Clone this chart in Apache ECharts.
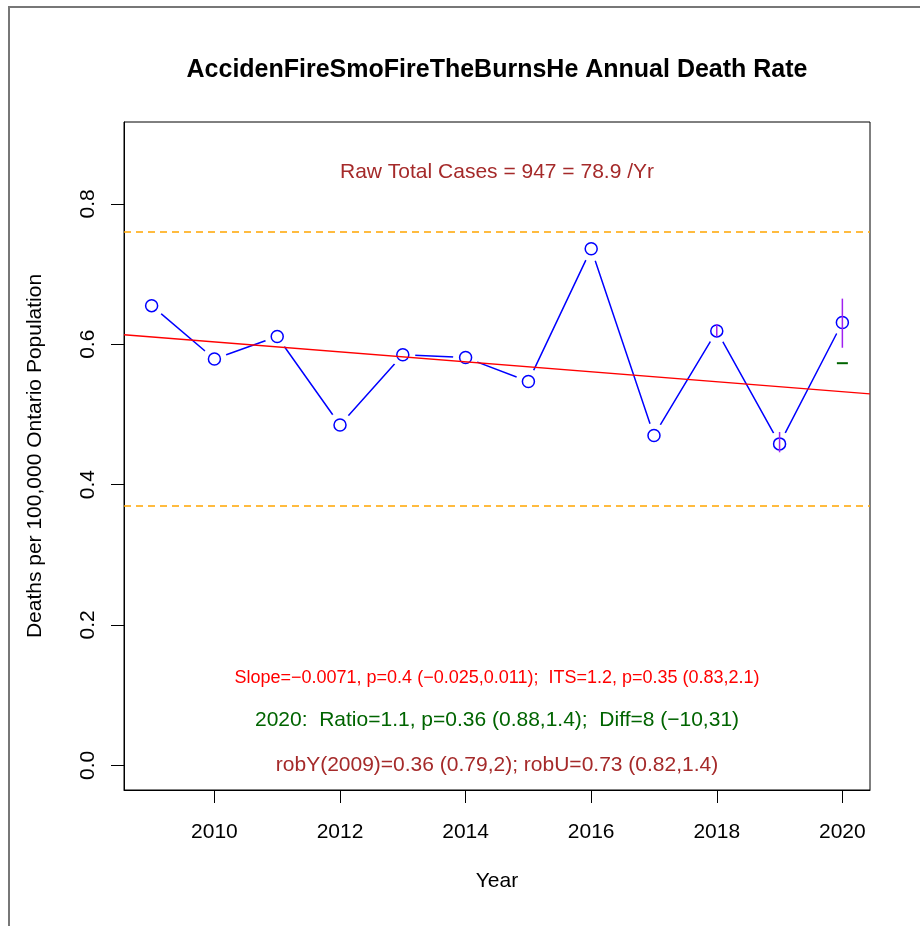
<!DOCTYPE html>
<html>
<head>
<meta charset="utf-8">
<title>Annual Death Rate</title>
<script src="https://cdn.jsdelivr.net/npm/echarts@6/dist/echarts.min.js"></script>
<style>
  html, body { margin: 0; padding: 0; background: #fff; }
  #chart { width: 920px; height: 926px; }
</style>
</head>
<body>
<div id="chart"></div>
<script>
// Annual death rate per 100,000 population, 2009-2020
const years = [2009, 2010, 2011, 2012, 2013, 2014, 2015, 2016, 2017, 2018, 2019, 2020];
const rates = [0.655, 0.579, 0.611, 0.485, 0.585, 0.581, 0.547, 0.736, 0.470, 0.619, 0.458, 0.631];

// Linear trend: value at the first year and yearly slope
const trendStartYear = 2009;
const trendStart = 0.6105;
const trendSlope = -0.0071;

// Control limits (dashed)
const limitLines = [0.763, 0.369];

// Interval bars for the latest years
const barYears = [2018, 2019, 2020];
const barLow = [0.611, 0.446, 0.595];
const barHigh = [0.629, 0.475, 0.665];

// Expected value for 2020
const expectedYear = [2020];
const expectedValue = [0.573];

// Tick labels
const xTicks = [2010, 2012, 2014, 2016, 2018, 2020];
const yTicks = [0, 0.2, 0.4, 0.6, 0.8];

const titleText = 'AccidenFireSmoFireTheBurnsHe Annual Death Rate';
const casesText = 'Raw Total Cases = 947 = 78.9 /Yr';
const slopeText = 'Slope=\u22120.0071, p=0.4 (\u22120.025,0.011);  ITS=1.2, p=0.35 (0.83,2.1)';
const ratioText = '2020:  Ratio=1.1, p=0.36 (0.88,1.4);  Diff=8 (\u221210,31)';
const robText = 'robY(2009)=0.36 (0.79,2); robU=0.73 (0.82,1.4)';

const FONT = '"Liberation Sans", Arial, Helvetica, sans-serif';
const xMin = 2008.56, xMax = 2020.44;
const yMin = -0.0352, yMax = 0.9167;

const pts = years.map((y, i) => [y, rates[i]]);
const trendPts = [xMin, xMax].map(x => [x, trendStart + trendSlope * (x - trendStartYear)]);
const bars = barYears.map((y, i) => [y, barLow[i], barHigh[i]]);
const expected = expectedYear.map((y, i) => [y, expectedValue[i]]);

const chart = echarts.init(document.getElementById('chart'), null, { renderer: 'canvas' });

function centeredText(text, x, y, size, color, weight) {
  return {
    type: 'text', x: x, y: y, silent: true,
    style: {
      text: text, fill: color, font: (weight || 'normal') + ' ' + size + 'px ' + FONT,
      align: 'center', verticalAlign: 'middle'
    }
  };
}

chart.setOption({
  animation: false,
  backgroundColor: '#fff',
  grid: {
    left: 124, top: 122, right: 50, bottom: 136,
    show: true, borderColor: '#000', borderWidth: 1, backgroundColor: 'transparent'
  },
  xAxis: {
    type: 'value', min: xMin, max: xMax,
    name: 'Year', nameLocation: 'middle', nameGap: 81,
    nameTextStyle: { fontFamily: FONT, fontSize: 21, color: '#000' },
    axisLine: { show: true, onZero: false, lineStyle: { color: '#000', width: 1 } },
    axisTick: { show: true, length: 13, customValues: xTicks, lineStyle: { color: '#000' } },
    axisLabel: {
      customValues: xTicks, margin: 32, fontFamily: FONT, fontSize: 21, color: '#000',
      formatter: v => String(Math.round(v))
    },
    splitLine: { show: false }
  },
  yAxis: {
    type: 'value', min: yMin, max: yMax,
    name: 'Deaths per 100,000 Ontario Population', nameLocation: 'middle', nameGap: 78,
    nameRotate: 90,
    nameTextStyle: { fontFamily: FONT, fontSize: 21, color: '#000' },
    axisLine: { show: true, onZero: false, lineStyle: { color: '#000', width: 1 } },
    axisTick: { show: true, length: 13, customValues: yTicks, lineStyle: { color: '#000' } },
    axisLabel: {
      customValues: yTicks, rotate: 90, margin: 25, fontFamily: FONT, fontSize: 21, color: '#000',
      formatter: v => v.toFixed(1)
    },
    splitLine: { show: false }
  },
  series: [
    {
      // connecting line
      type: 'line', data: pts, symbol: 'none', silent: true, z: 2,
      lineStyle: { color: '#0000FF', width: 1.5 }
    },
    {
      // white gaps around points
      type: 'scatter', data: pts, symbol: 'circle', symbolSize: 25, silent: true, z: 3,
      itemStyle: { color: '#fff', borderWidth: 0, opacity: 1 }
    },
    {
      // open circles
      type: 'scatter', data: pts, symbol: 'circle', symbolSize: 12, silent: true, z: 4,
      itemStyle: { color: 'rgba(255,255,255,0)', borderColor: '#0000FF', borderWidth: 1.5, opacity: 1 }
    },
    {
      // fitted trend and control limits
      type: 'line', data: trendPts, symbol: 'none', silent: true, z: 5,
      lineStyle: { color: '#FF0000', width: 1.5 },
      markLine: {
        silent: true, symbol: 'none', label: { show: false },
        lineStyle: { color: '#FFA500', type: [7, 5], width: 1.5 },
        data: limitLines.map(v => ({ yAxis: v }))
      }
    },
    {
      // interval bars
      type: 'custom', data: bars, silent: true, z: 6,
      renderItem: function (params, api) {
        const x = api.value(0);
        const lo = api.coord([x, api.value(1)]);
        const hi = api.coord([x, api.value(2)]);
        return {
          type: 'line',
          shape: { x1: lo[0], y1: lo[1], x2: hi[0], y2: hi[1] },
          style: { stroke: '#A020F0', lineWidth: 1.5 }
        };
      }
    },
    {
      // expected value mark
      type: 'scatter', data: expected, symbol: 'rect', symbolSize: [11, 2], silent: true, z: 6,
      itemStyle: { color: '#006400', opacity: 1 }
    }
  ],
  graphic: [
    // outer frame
    { type: 'line', silent: true, shape: { x1: 8, y1: 7, x2: 920, y2: 7 }, style: { stroke: '#777', lineWidth: 2 } },
    { type: 'line', silent: true, shape: { x1: 9, y1: 6, x2: 9, y2: 926 }, style: { stroke: '#777', lineWidth: 2 } },
    centeredText(titleText, 497, 70, 25, '#000', 'bold'),
    centeredText(casesText, 497, 172, 21, '#A52A2A'),
    centeredText(slopeText, 497, 678, 18, '#FF0000'),
    centeredText(ratioText, 497, 720, 21, '#006400'),
    centeredText(robText, 497, 765, 21, '#A52A2A')
  ]
});
</script>
</body>
</html>
